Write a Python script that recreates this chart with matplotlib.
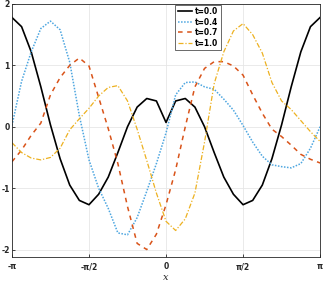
import numpy as np
import matplotlib
matplotlib.use("Agg")
import matplotlib.pyplot as plt

plt.rcParams["axes.unicode_minus"] = False

n = 33
x = np.linspace(-np.pi, np.pi, n)

black_half = [1.78, 1.63, 1.22, 0.65, 0.03, -0.52, -0.95, -1.20, -1.27,
              -1.10, -0.82, -0.42, 0.00, 0.32, 0.46, 0.42, 0.07]
t00 = black_half + black_half[-2::-1]

t04 = [0.02, 0.74, 1.22, 1.60, 1.72, 1.58, 1.05, 0.18, -0.54, -1.00, -1.33,
       -1.73, -1.76, -1.48, -1.05, -0.60, -0.10, 0.52, 0.72, 0.73, 0.65,
       0.61, 0.45, 0.27, 0.02, -0.25, -0.48, -0.62, -0.65, -0.67, -0.60,
       -0.35, 0.00]

t07 = [-0.57, -0.38, -0.14, 0.06, 0.52, 0.80, 1.00, 1.12, 0.99, 0.48, -0.03,
       -0.60, -1.30, -1.90, -2.00, -1.75, -1.27, -0.70, 0.00, 0.65, 0.95,
       1.06, 1.06, 0.99, 0.84, 0.52, 0.22, -0.04, -0.16, -0.30, -0.45,
       -0.53, -0.59]

t10 = [-0.26, -0.42, -0.51, -0.54, -0.50, -0.35, -0.05, 0.13, 0.30, 0.50,
       0.64, 0.67, 0.42, -0.04, -0.55, -1.08, -1.54, -1.69, -1.50, -1.08,
       -0.25, 0.70, 1.22, 1.56, 1.68, 1.50, 1.20, 0.72, 0.42, 0.28, 0.10,
       -0.08, -0.24]

labels = ["t=0.0", "t=0.4", "t=0.7", "t=1.0"]
xtick_vals = [-np.pi, -np.pi / 2, 0, np.pi / 2, np.pi]
xtick_labels = ["-\u03c0", "-\u03c0/2", "0", "\u03c0/2", "\u03c0"]
ytick_vals = [-2, -1, 0, 1, 2]
ytick_labels = ["-2", "-1", "0", "1", "2"]

fig = plt.figure(figsize=(3.23, 2.82), dpi=100)
ax = fig.add_axes([0.037, 0.089, 0.954, 0.897])

ax.plot(x, t00, color="black", lw=1.2, ls="-", label=labels[0])
ax.plot(x, t04, color="#4DA6E0", lw=1.1, ls=(0, (1, 1)), label=labels[1])
ax.plot(x, t07, color="#D95319", lw=1.1, ls=(0, (3, 3)), label=labels[2])
ax.plot(x, t10, color="#EDB120", lw=0.9, ls=(0, (4, 1.5, 1, 1.5)), label=labels[3])

ax.set_xlim(-np.pi, np.pi)
ax.set_ylim(-2.12, 2.0)
ax.set_xticks(xtick_vals)
ax.set_xticklabels(xtick_labels)
ax.set_yticks(ytick_vals)
ax.set_yticklabels(ytick_labels)
ax.tick_params(direction="in", length=2.5, width=0.6, labelsize=5.5,
               colors="#262626")
ax.tick_params(axis="y", pad=1.5)
ax.tick_params(axis="x", pad=4)
for lab in ax.get_xticklabels() + ax.get_yticklabels():
    lab.set_fontweight("bold")
ax.grid(True, color="#e6e6e6", lw=0.6)
ax.set_axisbelow(True)
for s in ax.spines.values():
    s.set_color("#262626")
    s.set_linewidth(0.6)
ax.set_xlabel("x", fontsize=7, style="italic", family="DejaVu Serif",
              labelpad=1, color="#262626")

leg = ax.legend(loc="upper left", bbox_to_anchor=(0.53, 0.997), fontsize=5.5,
                frameon=True, fancybox=False, handlelength=1.9,
                borderpad=0.3, labelspacing=0.2, handletextpad=0.4,
                borderaxespad=0)
leg.get_frame().set_edgecolor("#262626")
leg.get_frame().set_linewidth(0.6)
for t in leg.get_texts():
    t.set_fontweight("bold")

fig.savefig("out.png", dpi=100)
